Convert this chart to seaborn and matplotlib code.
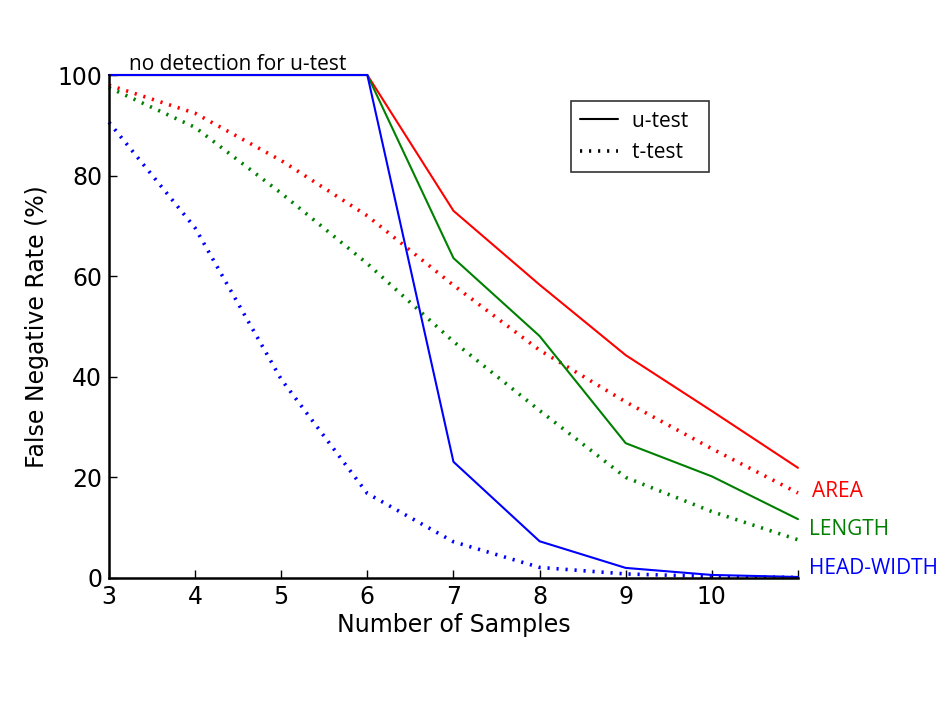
import matplotlib
matplotlib.use("Agg")
import matplotlib.pyplot as plt
import seaborn as sns
import pandas as pd
from matplotlib.lines import Line2D

samples = [3, 4, 5, 6, 7, 8, 9, 10, 11]
area_u = [100, 100, 100, 100, 73.0, 58.3, 44.3, 33.2, 21.9]
length_u = [100, 100, 100, 100, 63.6, 48.1, 26.8, 20.2, 11.7]
head_u = [100, 100, 100, 100, 23.1, 7.3, 2.0, 0.6, 0.2]
area_t = [98.0, 92.4, 83.0, 72.0, 58.2, 45.3, 35.0, 25.7, 16.9]
length_t = [97.5, 89.6, 76.5, 62.5, 47.0, 33.3, 20.0, 13.2, 7.6]
head_t = [90.6, 69.6, 39.5, 16.8, 7.2, 2.1, 0.8, 0.3, 0.1]
xtick_labels = ["3", "4", "5", "6", "7", "8", "9", "10", ""]
legend_labels = ["u-test  ", "t-test  "]

sns.set_style("white")
plt.rcParams['font.family'] = ['DejaVu Sans']
plt.rcParams['text.color'] = 'black'
plt.rcParams['axes.labelcolor'] = 'black'

fig = plt.figure(figsize=(9.45, 7.09), dpi=100)
ax = fig.add_axes([0.1153, 0.1848, 0.7291, 0.7094])

dot = (0, (0.6, 1.9))
series = [
    (area_t, "red", dot, 2.6),
    (length_t, "green", dot, 2.6),
    (head_t, "blue", dot, 2.6),
    (area_u, "red", "-", 1.5),
    (length_u, "green", "-", 1.5),
    (head_u, "blue", "-", 1.5),
]
for vals, col, ls, lw in series:
    df = pd.DataFrame({"x": samples, "y": vals})
    sns.lineplot(data=df, x="x", y="y", ax=ax, color=col, linestyle=ls,
                 linewidth=lw, clip_on=False)

ax.set_xlim(3, 11)
ax.set_ylim(0, 100)
ax.set_xticks(samples)
ax.set_xticklabels(xtick_labels)
ax.set_yticks([0, 20, 40, 60, 80, 100])
ax.tick_params(axis="both", direction="in", length=6, width=1, labelsize=17,
               colors="black", pad=5, bottom=True, left=True)
for s in ["top", "right"]:
    ax.spines[s].set_visible(False)
for s in ["left", "bottom"]:
    ax.spines[s].set_linewidth(1.8)
    ax.spines[s].set_color("black")

ax.set_xlabel("Number of Samples", fontsize=17, labelpad=3)
ax.set_ylabel("False Negative Rate (%)", fontsize=17, labelpad=6)

ann = ['Open Sans', 'DejaVu Sans']
ax.text(4.5, 101.0, "no detection for u-test", fontsize=15, family=ann,
        ha="center", va="baseline", color="black")
ax.text(11.16, 17.2, "AREA", fontsize=15, family=ann, color="red",
        ha="left", va="center", clip_on=False)
ax.text(11.13, 9.7, "LENGTH", fontsize=15, family=ann, color="green",
        ha="left", va="center", clip_on=False)
ax.text(11.13, 1.9, "HEAD-WIDTH", fontsize=15, family=ann, color="blue",
        ha="left", va="center", clip_on=False)

handles = [Line2D([], [], color="black", linestyle="-", linewidth=1.5),
           Line2D([], [], color="black", linestyle=dot, linewidth=2.6)]
leg = ax.legend(handles, legend_labels, loc="upper left",
                bbox_to_anchor=(0.6705, 0.948), prop={'family': ann, 'size': 15},
                frameon=True, fancybox=False, handlelength=1.8,
                borderpad=0.45, labelspacing=0.5, handletextpad=0.7,
                borderaxespad=0)
leg.get_frame().set_edgecolor("black")
leg.get_frame().set_linewidth(1.2)
for t in leg.get_texts():
    t.set_color("black")

fig.savefig("out.png", dpi=100, facecolor="white")
